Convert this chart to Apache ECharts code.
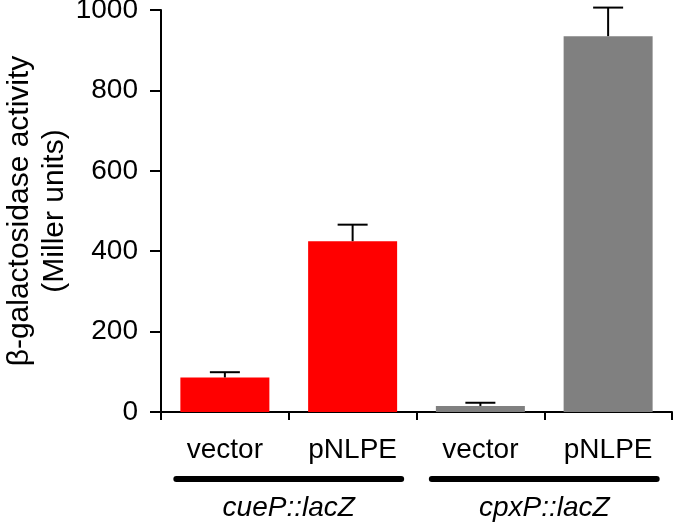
<!DOCTYPE html>
<html>
<head>
<meta charset="utf-8">
<script src="https://cdn.jsdelivr.net/npm/echarts@6/dist/echarts.min.js"></script>
<style>
html,body{margin:0;padding:0;background:#fff;}
#chart{width:677px;height:526px;}
</style>
</head>
<body>
<div id="chart"></div>
<script>
var categories = ['vector', 'pNLPE', 'vector', 'pNLPE'];
var values = [86, 425, 15, 935];
var errors = [13, 41, 8, 71];
var barColors = ['#ff0000', '#ff0000', '#808080', '#808080'];
var groups = ['cueP::lacZ', 'cpxP::lacZ'];
var yTicks = [0, 200, 400, 600, 800, 1000];

var FONT = 'Liberation Sans, Arial, sans-serif';
var chart = echarts.init(document.getElementById('chart'), null, {renderer: 'canvas'});

var barData = values.map(function (v, i) {
  return {value: v, itemStyle: {color: barColors[i]}};
});
var errData = values.map(function (v, i) { return [i, v, errors[i]]; });
var groupData = groups.map(function (g, i) { return [i, 0]; });

chart.setOption({
  animation: false,
  backgroundColor: '#ffffff',
  grid: {left: 161, right: 5, top: 10, bottom: 114, containLabel: false, outerBoundsMode: 'none'},
  xAxis: [{
    type: 'category',
    data: categories,
    boundaryGap: true,
    axisLine: {lineStyle: {color: '#000', width: 2}},
    axisTick: {show: true, length: 8, lineStyle: {color: '#000', width: 2}},
    axisLabel: {color: '#000', fontSize: 28, fontFamily: FONT, margin: 24, interval: 0}
  }, {
    type: 'category',
    data: groups,
    position: 'bottom',
    boundaryGap: true,
    axisLine: {show: false},
    axisTick: {show: false},
    axisLabel: {color: '#000', fontSize: 28, fontStyle: 'italic', fontFamily: FONT, margin: 82, interval: 0}
  }],
  yAxis: {
    type: 'value',
    min: yTicks[0],
    max: yTicks[yTicks.length - 1],
    interval: 200,
    name: 'β-galactosidase activity\n(Miller units)',
    nameLocation: 'middle',
    nameGap: 89,
    nameMoveOverlap: false,
    nameTextStyle: {color: '#000', fontSize: 30, fontFamily: FONT, lineHeight: 35, align: 'center'},
    axisLine: {show: true, lineStyle: {color: '#000', width: 2}},
    axisTick: {show: true, length: 11, lineStyle: {color: '#000', width: 2}},
    axisLabel: {color: '#000', fontSize: 28, fontFamily: FONT, margin: 23,
      formatter: function (v) { return String(v); }},
    splitLine: {show: false}
  },
  series: [{
    type: 'bar',
    xAxisIndex: 0,
    data: barData,
    barWidth: 89,
    z: 2
  }, {
    type: 'custom',
    xAxisIndex: 0,
    clip: false,
    z: 3,
    data: errData,
    renderItem: function (params, api) {
      var i = api.value(0);
      var base = api.coord([i, api.value(1)]);
      var top = api.coord([i, api.value(1) + api.value(2)]);
      var half = 15;
      return {
        type: 'group',
        children: [{
          type: 'line',
          shape: {x1: base[0], y1: base[1], x2: top[0], y2: top[1]},
          style: {stroke: '#000', lineWidth: 2}
        }, {
          type: 'line',
          shape: {x1: top[0] - half, y1: top[1], x2: top[0] + half, y2: top[1]},
          style: {stroke: '#000', lineWidth: 2}
        }]
      };
    }
  }, {
    type: 'custom',
    xAxisIndex: 1,
    clip: false,
    z: 3,
    data: groupData,
    renderItem: function (params, api) {
      var c = api.coord([api.value(0), 0]);
      var band = api.size([1, 0])[0];
      var halfLen = band * 0.44;
      var y = c[1] + 67;
      return {
        type: 'line',
        shape: {x1: c[0] - halfLen, y1: y, x2: c[0] + halfLen, y2: y},
        style: {stroke: '#000', lineWidth: 6, lineCap: 'round'}
      };
    }
  }]
});
</script>
</body>
</html>
